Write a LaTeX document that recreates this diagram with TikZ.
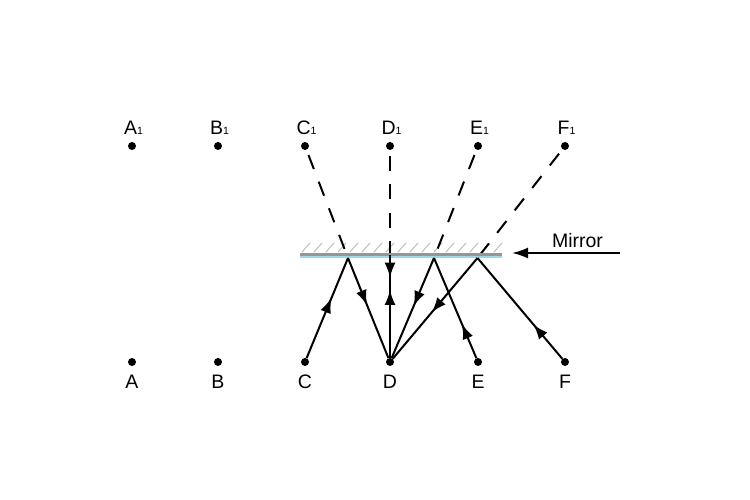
\documentclass[tikz,border=0pt]{standalone}
\usepackage{fontspec}
\setmainfont{Liberation Sans}
\usetikzlibrary{arrows.meta,decorations.markings}
\definecolor{mirrorgray}{HTML}{969696}
\definecolor{mirrorblue}{HTML}{9FD8EA}
\definecolor{hatchgray}{HTML}{B8B8B8}
\tikzset{
  dot/.style={circle,fill=black,inner sep=0pt,minimum size=8pt},
  lbl/.style={font=\fontsize{19.5}{22}\selectfont,inner sep=0pt,anchor=base},
  rayline/.style={line width=2pt},
  rayarrow/.style={rayline,postaction={decorate},decoration={markings,mark=at position #1 with {\arrow{Latex[length=15pt,width=11pt]}}}},
  imgline/.style={line width=2pt,dash pattern=on 15pt off 13.5pt,dash phase=23pt},
}
\newcommand{\sub}[1]{{\fontsize{10.5}{12}\selectfont #1}}
\begin{document}
\begin{tikzpicture}[x=1pt,y=-1pt]
\useasboundingbox (0,0) rectangle (750,500);
% dots
\foreach \n/\x in {A/132,B/218,C/305,D/390,E/478,F/565}{
  \node[dot] (\n) at (\x,362) {};
  \node[dot] (\n1) at (\x,146) {};
  \node[lbl] (\n lab) at (\x,388) {\n};
  \node[lbl] (\n1lab) at (\x+1.5,135) {\n\sub{1}};
}
% reflection points
\coordinate (P1) at (348,258);
\coordinate (P2) at (390,255);
\coordinate (P3) at (434,258);
\coordinate (P4) at (477.5,258);
% hatching
\foreach \h in {302,314,...,494}{
  \draw[hatchgray,line width=0.9pt] (\h,252) -- (\h+8,243);
}
% image (dashed) lines
\draw[imgline] (C1) -- (P1);
\draw[imgline] (D1) -- (P2);
\draw[imgline] (E1) -- (P3);
\draw[imgline] (F1) -- (P4);
% mirror
\coordinate (ML) at (300,254);
\coordinate (MR) at (502,254);
\draw[mirrorblue,line width=2.2pt] ([yshift=-2.6pt]ML) -- ([yshift=-2.6pt]MR);
\draw[mirrorgray,line width=3pt] (ML) -- (MR);
% rays
\draw[rayarrow=0.6] (C) -- (P1);
\draw[rayarrow=0.47] (P1) -- (D);
\draw[rayarrow=0.66] (D) -- (P2);
\draw[rayarrow=0.22] (P2) -- (D);
\draw[rayarrow=0.34] (E) -- (P3);
\draw[rayarrow=0.48] (P3) -- (D);
\draw[rayarrow=0.34] (F) -- (P4);
\draw[rayarrow=0.54] (P4) -- (D);
% mirror label
\coordinate (MA) at (620,253);
\coordinate (MB) at (512,253);
\draw[line width=2pt,-{Latex[length=16pt,width=11pt]}] (MA) -- (MB);
\node[lbl] (mirrorlab) at (577.5,247) {Mirror};
\end{tikzpicture}
\end{document}
